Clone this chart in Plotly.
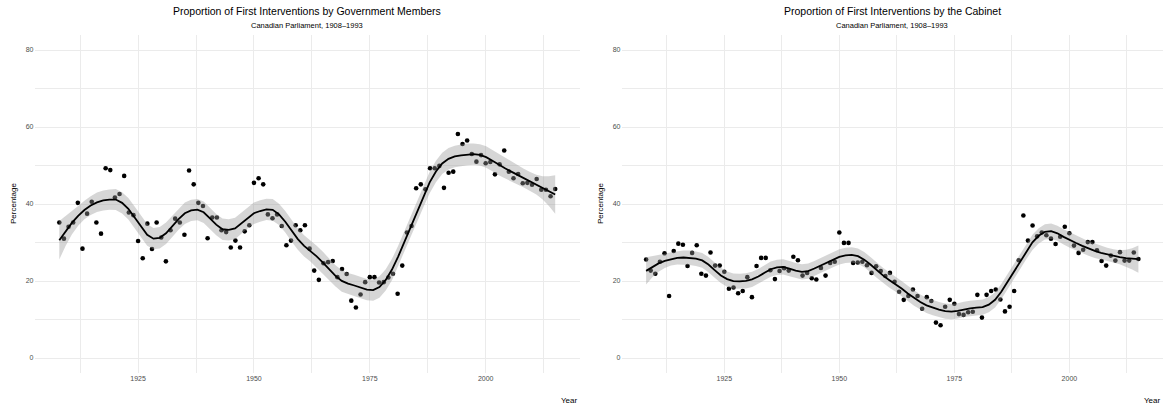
import numpy as np
import plotly.graph_objects as go

# ---------------- data ----------------
years = list(range(1908, 2016))

gov_members = [
    35.2, 31.0, 34.1, 35.2, 40.3, 28.4, 37.5, 40.6, 35.2, 32.3,   # 1908-1917
    49.3, 48.8, 41.7, 42.6, 47.3, 37.8, 37.1, 30.4, 25.9, 34.9,   # 1918-1927
    28.3, 35.2, 31.3, 25.1, 33.2, 36.2, 35.2, 32.0, 48.7, 45.1,   # 1928-1937
    40.3, 39.5, 31.1, 36.5, 36.5, 33.2, 32.7, 28.7, 30.5, 28.7,   # 1938-1947
    32.9, 34.5, 45.5, 46.7, 45.1, 37.3, 36.3, 37.3, 34.3, 29.3,   # 1948-1957
    30.5, 34.5, 33.2, 34.5, 28.4, 22.7, 20.3, 24.6, 24.9, 25.2,   # 1958-1967
    21.0, 23.1, 21.8, 14.9, 13.1, 16.5, 19.7, 21.0, 21.0, 19.6,   # 1968-1977
    19.7, 20.9, 21.9, 16.7, 24.0, 32.6, 34.3, 44.1, 45.1, 43.8,   # 1978-1987
    49.3, 49.3, 49.9, 44.2, 48.1, 48.4, 58.2, 55.6, 56.5, 53.0,   # 1988-1997
    51.0, 52.7, 50.6, 50.9, 47.7, 50.3, 53.9, 48.4, 46.7, 47.8,   # 1998-2007
    45.4, 45.5, 45.0, 46.5, 43.7, 43.7, 42.0, 43.9,               # 2008-2015
]

cabinet = [
    25.6, 22.7, 21.9, 25.0, 27.2, 16.1, 27.8, 29.7, 29.4, 23.9,   # 1908-1917
    27.3, 29.3, 21.9, 21.4, 27.4, 24.0, 24.0, 22.4, 18.0, 18.3,   # 1918-1927
    16.8, 17.4, 21.0, 15.8, 23.9, 26.0, 26.0, 22.8, 20.5, 22.6,   # 1928-1937
    23.3, 22.7, 26.3, 25.4, 21.4, 22.1, 20.7, 20.4, 23.4, 21.4,   # 1938-1947
    24.7, 25.0, 32.6, 29.9, 29.9, 24.7, 24.8, 25.0, 24.1, 22.1,   # 1948-1957
    23.8, 22.6, 21.3, 22.1, 19.8, 17.2, 15.1, 16.1, 17.8, 16.1,   # 1958-1967
    12.8, 15.8, 14.8, 9.2, 8.5, 13.3, 15.1, 14.1, 11.4, 11.2,     # 1968-1977
    11.9, 12.0, 16.4, 10.5, 16.4, 17.4, 17.8, 15.2, 12.1, 13.3,   # 1978-1987
    17.4, 25.4, 37.0, 30.5, 34.4, 31.6, 32.6, 31.9, 31.0, 29.6,   # 1988-1997
    31.5, 34.1, 32.4, 29.2, 27.3, 28.1, 30.1, 30.1, 28.0, 25.2,   # 1998-2007
    24.0, 26.6, 25.3, 27.5, 25.3, 25.3, 27.4, 25.7,               # 2008-2015
]

titles = ["Proportion of First Interventions by Government Members",
          "Proportion of First Interventions by the Cabinet"]
subtitle = "Canadian Parliament, 1908\u20131993"
x_title = "Year"
y_title = "Percentage"
x_ticks = [1925, 1950, 1975, 2000]
x_minor = [1912.5, 1937.5, 1962.5, 1987.5, 2012.5]
y_ticks = [0, 20, 40, 60, 80]
y_minor = [10, 30, 50, 70]


# ---------------- loess smoother (local quadratic, tricube) ----------------
def local_weights(x, x0, q):
    d = np.abs(x - x0)
    h = np.sort(d)[q - 1]
    u = np.clip(d / h, 0, 1)
    w = (1 - u ** 3) ** 3
    B = np.column_stack([np.ones_like(x), x - x0, (x - x0) ** 2])
    BW = B.T * w
    A = BW @ B
    return np.linalg.solve(A, BW)[0]


def loess(x, y, grid, span):
    x = np.asarray(x, float)
    y = np.asarray(y, float)
    n = len(x)
    q = int(np.floor(n * span))
    L = np.array([local_weights(x, xi, q) for xi in x])
    res = y - L @ y
    M = (np.eye(n) - L).T @ (np.eye(n) - L)
    d1 = np.trace(M)
    d2 = np.trace(M @ M)
    sigma = np.sqrt(np.sum(res ** 2) / d1)
    df = d1 ** 2 / d2
    z = 1.959964
    t = z + (z ** 3 + z) / (4 * df) + (5 * z ** 5 + 16 * z ** 3 + 3 * z) / (96 * df ** 2)
    G = np.array([local_weights(x, g, q) for g in grid])
    fit = G @ y
    se = sigma * np.sqrt(np.sum(G ** 2, axis=1))
    return fit, fit - t * se, fit + t * se


SPAN = 0.25
grid = np.linspace(min(years), max(years), 80)

# ---------------- figure ----------------
W, H = 1163, 409
fig = go.Figure()

panels = [
    dict(vals=gov_members, xa="x", ya="y", x0=34.5, x1=580.0),
    dict(vals=cabinet, xa="x2", ya="y2", x0=621.5, x1=1163.0),
]
top_px, bot_px = 34.6, 373.4
ydom = [1 - bot_px / H, 1 - top_px / H]

font_fam = "Liberation Sans, Arial, Helvetica, sans-serif"
grid_col = "#EBEBEB"

for i, p in enumerate(panels):
    fit, lo, hi = loess(years, p["vals"], grid, SPAN)
    fig.add_trace(go.Scatter(
        x=years, y=p["vals"], mode="markers",
        marker=dict(color="black", size=4.6, line=dict(width=0)),
        xaxis=p["xa"], yaxis=p["ya"], showlegend=False, hoverinfo="skip"))
    fig.add_trace(go.Scatter(
        x=np.concatenate([grid, grid[::-1]]), y=np.concatenate([hi, lo[::-1]]),
        mode="lines", fill="toself", fillcolor="rgba(153,153,153,0.4)",
        line=dict(width=0), xaxis=p["xa"], yaxis=p["ya"],
        showlegend=False, hoverinfo="skip"))
    fig.add_trace(go.Scatter(
        x=grid, y=fit, mode="lines", line=dict(color="black", width=1.8),
        xaxis=p["xa"], yaxis=p["ya"], showlegend=False, hoverinfo="skip"))

    xdom = [p["x0"] / W, p["x1"] / W]
    suffix = "" if i == 0 else "2"
    fig.update_layout(**{
        "xaxis" + suffix: dict(
            domain=xdom, range=[1902.65, 2020.35], tickvals=x_ticks,
            showgrid=True, gridcolor=grid_col, gridwidth=1,
            zeroline=False, showline=False, ticks="",
            tickfont=dict(family=font_fam, size=7, color="#4D4D4D"),
            minor=dict(tickvals=x_minor, showgrid=True, gridcolor=grid_col, gridwidth=0.8),
            anchor="y" + suffix),
        "yaxis" + suffix: dict(
            domain=ydom, range=[-4, 84], tickvals=y_ticks,
            showgrid=True, gridcolor=grid_col, gridwidth=1,
            zeroline=False, showline=False, ticks="",
            tickfont=dict(family=font_fam, size=7, color="#4D4D4D"),
            minor=dict(tickvals=y_minor, showgrid=True, gridcolor=grid_col, gridwidth=0.8),
            anchor="x" + suffix),
    })
    cx = (p["x0"] + p["x1"]) / 2 / W
    fig.add_annotation(text=titles[i], x=cx, y=1 - 10.5 / H, xref="paper", yref="paper",
                       showarrow=False, xanchor="center", yanchor="middle",
                       font=dict(family=font_fam, size=10.5, color="#000000"))
    fig.add_annotation(text=subtitle, x=cx, y=1 - 25 / H, xref="paper", yref="paper",
                       showarrow=False, xanchor="center", yanchor="middle",
                       font=dict(family=font_fam, size=7.5, color="#000000"))
    fig.add_annotation(text=x_title, x=p["x1"] / W, y=1 - 400 / H, xref="paper", yref="paper",
                       showarrow=False, xanchor="right", yanchor="middle",
                       font=dict(family=font_fam, size=8, color="#000000"))
    fig.add_annotation(text=y_title, x=(p["x0"] - 21.5) / W, y=1 - 204 / H,
                       xref="paper", yref="paper", textangle=-90,
                       showarrow=False, xanchor="center", yanchor="middle",
                       font=dict(family=font_fam, size=8, color="#000000"))

fig.update_layout(
    width=W, height=H, margin=dict(l=0, r=0, t=0, b=0, pad=0),
    paper_bgcolor="white", plot_bgcolor="white", showlegend=False,
)

fig.write_html("out.html")
